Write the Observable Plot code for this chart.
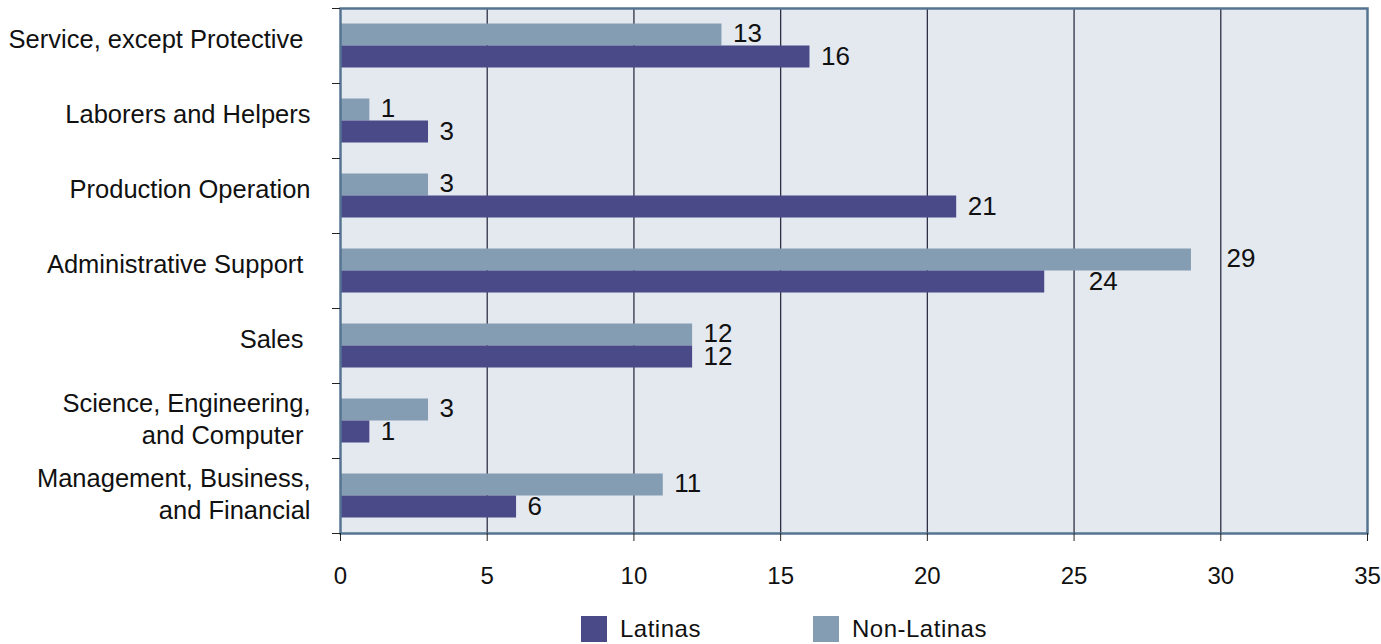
<!DOCTYPE html>
<html>
<head>
<meta charset="utf-8">
<script src="https://cdn.jsdelivr.net/npm/d3@7"></script>
<script src="https://cdn.jsdelivr.net/npm/@observablehq/plot@0.6"></script>
<style>
  html, body { margin: 0; padding: 0; background: #fff; }
  body { width: 1381px; height: 644px; overflow: hidden; font-family: "Liberation Sans", Arial, sans-serif; color: #111; }
  #legend { position: relative; height: 44px; }
  .item { position: absolute; top: 15px; display: flex; align-items: center; font-size: 24px; letter-spacing: 0.5px; }
  .sw { width: 26px; height: 26px; margin-right: 13px; }
</style>
</head>
<body>
<div id="chart"></div>
<div id="legend"></div>
<script>
const categories = [
  "Service, except Protective ",
  "Laborers and Helpers",
  "Production Operation",
  "Administrative Support ",
  "Sales ",
  "Science, Engineering,\nand Computer ",
  "Management, Business,\nand Financial"
];
const latinas = [16, 3, 21, 24, 12, 1, 6];
const nonLatinas = [13, 1, 3, 29, 12, 3, 11];
const seriesNames = ["Latinas", "Non-Latinas"];
const seriesColors = ["#4b4a88", "#849db3"];
const xTicks = [0, 5, 10, 15, 20, 25, 30, 35];
const gridTicks = [5, 10, 15, 20, 25, 30];

const latRows = categories.map((c, i) => ({category: c, value: latinas[i]}));
const nonRows = categories.map((c, i) => ({category: c, value: nonLatinas[i]}));
const special = "Administrative Support ";
const singleLine = categories.filter(c => !c.includes("\n"));
const multiLine = categories.filter(c => c.includes("\n"));

const labelFont = {fontSize: 26, textAnchor: "start", fill: "#111", style: "letter-spacing:1px"};
const catStyle = "letter-spacing:0.7px; white-space:pre";

const chart = Plot.plot({
  width: 1381,
  height: 600,
  marginLeft: 340,
  marginRight: 14,
  marginTop: 8,
  marginBottom: 67,
  style: {fontFamily: "'Liberation Sans', Arial, sans-serif", background: "#fff", color: "#111"},
  x: {domain: [0, 35], ticks: xTicks},
  y: {domain: categories, padding: 0},
  marks: [
    Plot.frame({fill: "#e4e9f0", stroke: null}),
    Plot.ruleX(gridTicks, {stroke: "#2f2f45", strokeWidth: 1.3}),
    Plot.barX(nonRows, {y: "category", x: "value", fill: seriesColors[1], insetTop: 15.5, insetBottom: 37.5}),
    Plot.barX(latRows, {y: "category", x: "value", fill: seriesColors[0], insetTop: 37.5, insetBottom: 15.5}),
    Plot.text(nonRows.filter(d => d.category !== special), {y: "category", x: "value", text: d => String(d.value), dx: 11, dy: -12.5, ...labelFont}),
    Plot.text(latRows.filter(d => d.category !== special), {y: "category", x: "value", text: d => String(d.value), dx: 11, dy: 10.5, ...labelFont}),
    Plot.text(nonRows.filter(d => d.category === special), {y: "category", x: "value", text: d => String(d.value), dx: 35, dy: -12, ...labelFont}),
    Plot.text(latRows.filter(d => d.category === special), {y: "category", x: "value", text: d => String(d.value), dx: 44, dy: 11, ...labelFont}),
    Plot.frame({stroke: "#557491", strokeWidth: 2.5}),
    Plot.axisX({ticks: xTicks, tickSize: 8, tickPadding: 25, fontSize: 24, label: null, stroke: "#222", style: "letter-spacing:1px"}),
    Plot.axisY({ticks: singleLine, tickSize: 0, tickPadding: 30, fontSize: 25.5, label: null, dy: -6, style: catStyle}),
    Plot.axisY({ticks: multiLine, tickSize: 0, tickPadding: 30, fontSize: 25.5, lineHeight: 1.24, label: null, dy: -3, style: catStyle}),
    Plot.axisY({tickSize: 8, tickFormat: () => "", label: null, dy: -37.5, stroke: "#222"}),
    Plot.axisY({tickSize: 8, tickFormat: () => "", label: null, dy: 37.5, stroke: "#222"})
  ]
});
document.getElementById("chart").appendChild(chart);

const legend = document.getElementById("legend");
const lefts = [581, 813];
seriesNames.forEach((name, i) => {
  const item = document.createElement("div");
  item.className = "item";
  item.style.left = lefts[i] + "px";
  const sw = document.createElement("div");
  sw.className = "sw";
  sw.style.background = seriesColors[i];
  const t = document.createElement("span");
  t.textContent = name;
  item.appendChild(sw);
  item.appendChild(t);
  legend.appendChild(item);
});
</script>
</body>
</html>
